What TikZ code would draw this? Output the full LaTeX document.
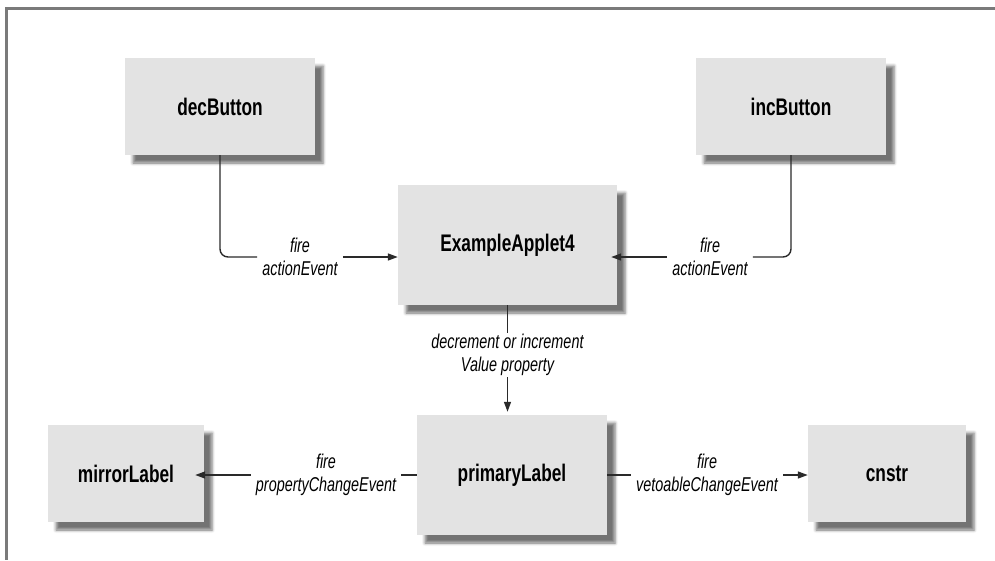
\documentclass[tikz,border=0pt]{standalone}
\usepackage{fontspec}
\setmainfont{Liberation Sans}[FakeStretch=0.72]
\usetikzlibrary{arrows.meta,shadows.blur}
\definecolor{boxgray}{HTML}{E3E3E3}
\definecolor{framegray}{HTML}{7A7A7A}
\definecolor{linegray}{HTML}{2A2A2A}
\begin{document}
\begin{tikzpicture}[x=1pt,y=-1pt,
  box/.style 2 args={draw=none, fill=boxgray, minimum width=#1, minimum height=#2,
    inner sep=0pt, text=black,
    font=\fontsize{24}{28}\selectfont\bfseries,
    blur shadow={shadow xshift=8pt, shadow yshift=-8pt, shadow blur radius=3pt, shadow opacity=55}},
  lab/.style={font=\fontsize{20}{23}\selectfont\itshape, align=center,
    inner xsep=5pt, inner ysep=1pt, text=black},
  conn/.style={draw=linegray, line width=1.4pt, rounded corners=8pt},
  arr/.style={conn, -{Triangle[length=10pt,width=7pt]}}]
\useasboundingbox (0,0) rectangle (995,560);
\draw[framegray, line width=3pt] (995,8.5) -- (6,8.5) -- (6,560);

\node[box={190pt}{97pt}] (dec) at (220,106.5) {decButton};
\node[box={190pt}{97pt}] (inc) at (791,106.5) {incButton};
\node[box={219pt}{120pt}] (app) at (507.5,245) {ExampleApplet4};
\node[box={156pt}{97pt}] (mirror) at (126,473.5) {mirrorLabel};
\node[box={190pt}{120pt}] (prim) at (512,475) {primaryLabel};
\node[box={158pt}{97pt}] (cnstr) at (887,473.5) {cnstr};

\node[lab] (l1) at (300,257) {fire\\actionEvent};
\node[lab] (l2) at (710,257) {fire\\actionEvent};
\node[lab] (l3) at (507.5,355) {decrement or increment\\Value property};
\node[lab] (l4) at (326,475) {fire\\propertyChangeEvent};
\node[lab] (l5) at (707,475) {fire\\vetoableChangeEvent};

\draw[conn] (dec.south) |- (l1.west);
\draw[arr] (l1.east) -- (l1.east -| app.west);
\draw[conn] (inc.south) |- (l2.east);
\draw[arr, shorten >=-6pt] (l2.west) -- (l2.west -| app.east);
\draw[conn] (l3.north -| app.south) -- (app.south);
\draw[arr, shorten >=3pt] (l3.south) -- (l3.south |- prim.north);
\draw[conn] (prim.west) -- (l4.east);
\draw[arr, shorten >=-9pt] (l4.west) -- (l4.west -| mirror.east);
\draw[conn] (prim.east) -- (l5.west);
\draw[arr] (l5.east) -- (l5.east -| cnstr.west);
\end{tikzpicture}
\end{document}
